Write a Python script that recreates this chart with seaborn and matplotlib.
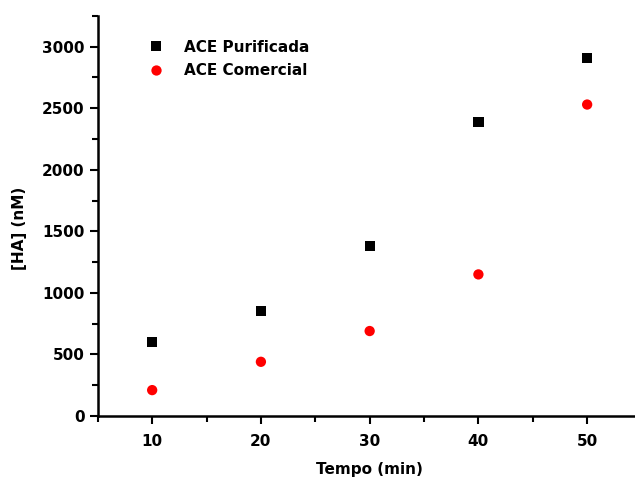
import matplotlib
matplotlib.use("Agg")
import matplotlib.pyplot as plt
from matplotlib.ticker import MultipleLocator
import pandas as pd
import seaborn as sns

TEMPO = [10, 20, 30, 40, 50]
HA_PURIFICADA = [600, 850, 1380, 2390, 2910]
HA_COMERCIAL = [210, 440, 690, 1150, 2530]
SERIES = ["ACE Purificada", "ACE Comercial"]

df = pd.DataFrame({
    "Tempo (min)": TEMPO * 2,
    "[HA] (nM)": HA_PURIFICADA + HA_COMERCIAL,
    "serie": [SERIES[0]] * len(TEMPO) + [SERIES[1]] * len(TEMPO),
})

sns.set_style("ticks")
plt.rcParams["font.family"] = ["DejaVu Sans"]
plt.rcParams["font.weight"] = "bold"
plt.rcParams["text.color"] = "black"
plt.rcParams["axes.labelcolor"] = "black"

fig = plt.figure(figsize=(6.35, 4.82), dpi=100)
ax = fig.add_axes([0.154, 0.137, 0.846, 0.830])

sns.scatterplot(data=df, x="Tempo (min)", y="[HA] (nM)", hue="serie", style="serie",
                hue_order=SERIES, style_order=SERIES,
                palette=["black", "#ff0000"], markers=["s", "o"],
                s=55, linewidth=0, ax=ax)

ax.set_xlim(5, 54.4)
ax.set_ylim(0, 3250)
ax.xaxis.set_major_locator(MultipleLocator(10))
ax.xaxis.set_minor_locator(MultipleLocator(5))
ax.yaxis.set_major_locator(MultipleLocator(500))
ax.yaxis.set_minor_locator(MultipleLocator(250))
ax.tick_params(which="major", length=6, width=1.5, labelsize=11, direction="out", colors="black")
ax.tick_params(which="minor", length=4, width=1.5, direction="out", colors="black")
ax.tick_params(axis="x", pad=7)
for lbl in ax.get_xticklabels() + ax.get_yticklabels():
    lbl.set_fontweight("bold")

sns.despine(ax=ax)
for side in ("left", "bottom"):
    ax.spines[side].set_linewidth(1.8)
    ax.spines[side].set_color("black")

ax.set_xlabel("Tempo (min)", fontsize=11, fontweight="bold", color="black")
ax.set_ylabel("[HA] (nM)", fontsize=11, fontweight="bold", color="black")
ax.xaxis.set_label_coords(0.505, -0.115)
ax.yaxis.set_label_coords(-0.132, 0.47)

sns.move_legend(ax, "upper left", bbox_to_anchor=(0.055, 0.975), frameon=False, title=None,
                prop={"weight": "bold", "size": 11}, handletextpad=0.8, labelspacing=0.55,
                markerscale=1.0)
for txt in ax.get_legend().get_texts():
    txt.set_color("black")

fig.savefig("out.png", dpi=100)
plt.close(fig)
